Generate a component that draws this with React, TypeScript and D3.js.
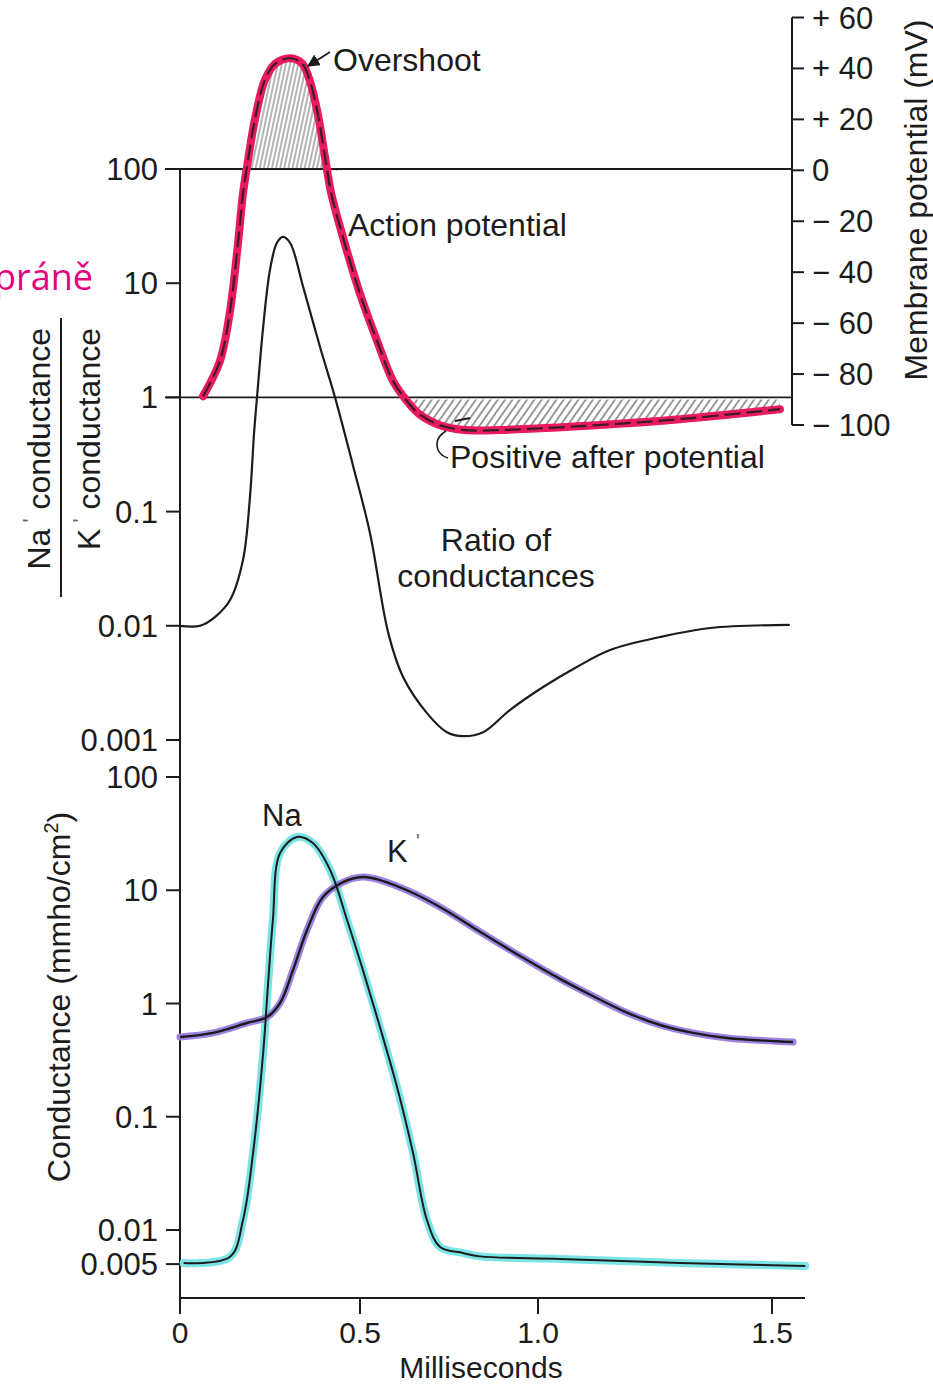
import React from "react";
import * as d3 from "d3";

// time axis (ms)
const timeTicks = [0, 0.5, 1.0, 1.5];
const timeTickLabels = ["0", "0.5", "1.0", "1.5"];

// membrane potential (mV)
const apT = [0.064, 0.111, 0.139, 0.161, 0.175, 0.189, 0.208, 0.236, 0.264, 0.306, 0.339, 0.361, 0.383, 0.403, 0.42, 0.453, 0.5, 0.548, 0.593, 0.632, 0.667, 0.725, 0.795, 0.893, 1.004, 1.132, 1.303, 1.517];
const apMV = [-88.7, -74.9, -55.2, -28.8, -9.1, 3.9, 20, 35.5, 41.8, 44, 42, 35, 22, 5, -9, -26.4, -48.5, -67, -82.8, -90.6, -95.8, -100.1, -102, -102, -101.3, -100, -97.7, -93.8];

// Na+/K+ conductance ratio
const ratioT = [0, 0.056, 0.097, 0.139, 0.175, 0.194, 0.206, 0.216, 0.231, 0.25, 0.269, 0.286, 0.306, 0.342, 0.389, 0.431, 0.481, 0.528, 0.58, 0.621, 0.688, 0.744, 0.789, 0.846, 0.921, 1.011, 1.083, 1.154, 1.261, 1.368, 1.538];
const ratioV = [0.01, 0.01, 0.0119, 0.0168, 0.0377, 0.13, 0.5, 1.2, 4.13, 13.1, 22.5, 25.4, 22.5, 9.3, 2.76, 0.99, 0.25, 0.065, 0.0085, 0.00356, 0.00172, 0.00117, 0.00108, 0.00117, 0.00183, 0.00291, 0.00436, 0.00614, 0.00798, 0.00957, 0.0102];

// conductances (mmho/cm2)
const naT = [0.01, 0.139, 0.175, 0.203, 0.231, 0.244, 0.258, 0.278, 0.325, 0.369, 0.417, 0.464, 0.508, 0.556, 0.604, 0.649, 0.688, 0.725, 0.789, 0.837, 1.047, 1.303, 1.571];
const naV = [0.0051, 0.0058, 0.01225, 0.0479, 0.366, 1.4, 5.46, 21.3, 29.5, 26.1, 15.1, 5.46, 1.98, 0.62, 0.183, 0.0479, 0.01225, 0.00708, 0.00627, 0.00585, 0.00555, 0.00512, 0.00481];
const kT = [0, 0.092, 0.186, 0.242, 0.278, 0.314, 0.353, 0.397, 0.453, 0.508, 0.556, 0.649, 0.739, 0.837, 0.969, 1.047, 1.118, 1.19, 1.261, 1.331, 1.404, 1.545];
const kV = [0.506, 0.55, 0.673, 0.76, 1.01, 1.98, 4.46, 8.7, 11.8, 13.1, 12.3, 9.46, 6.7, 4.3, 2.42, 1.65, 1.16, 0.83, 0.646, 0.55, 0.496, 0.457];

const mvTicks = [60, 40, 20, 0, -20, -40, -60, -80, -100];
const ratioTicks = [100, 10, 1, 0.1, 0.01, 0.001];
const ratioTickLabels = ["100", "10", "1", "0.1", "0.01", "0.001"];
const condTicks = [100, 10, 1, 0.1, 0.01, 0.005];
const condTickLabels = ["100", "10", "1", "0.1", "0.01", "0.005"];

const FONT = "'Liberation Sans', Arial, sans-serif";
const INK = "#1c1c1c";
const PINK = "#ea1a5e";
const CYAN = "#7be4e6";
const PURPLE = "#9d82e2";

const zip = (t: number[], v: number[]) => t.map((d, i) => ({ t: d, v: v[i] }));

export default function App() {
	const x = d3.scaleLinear().domain([0, 0.5, 1.0, 1.5]).range([180, 360, 538, 772]);
	const yRatio = d3.scaleLog().domain([0.001, 100]).range([740, 169]);
	const yMV = d3.scaleLinear().domain([-100, 60]).range([425, 17.5]);
	const yCond = d3.scaleLog().domain([0.01, 100]).range([1230, 777]);

	const ap = zip(apT, apMV);
	const ratio = zip(ratioT, ratioV);
	const na = zip(naT, naV);
	const k = zip(kT, kV);

	const smooth = d3.curveCatmullRom.alpha(0.5);
	const apLine = d3.line<any>().x(d => x(d.t)).y(d => yMV(d.v)).curve(smooth);
	const ratioLine = d3.line<any>().x(d => x(d.t)).y(d => yRatio(d.v)).curve(smooth);
	const condLine = d3.line<any>().x(d => x(d.t)).y(d => yCond(d.v)).curve(smooth);

	const overshootArea = d3.area<any>()
		.x(d => x(d.t))
		.y0(yMV(0))
		.y1(d => yMV(Math.max(d.v, 0)))
		.curve(smooth);
	const afterArea = d3.area<any>()
		.defined(d => d.t > 0.55)
		.x(d => x(d.t))
		.y0(yMV(-90))
		.y1(d => yMV(Math.min(d.v, -90)))
		.curve(smooth);

	const axisX = x(0);
	const rightX = 792;
	const xAxisY = 1298;

	const mvLabel = (v: number) => v > 0 ? "+ " + v : v < 0 ? "\u2212 " + (-v) : "0";

	return (
		<svg width={933} height={1384} style={{ display: "block", position: "absolute", left: 0, top: 0, background: "#fff" }}
			fontFamily={FONT} fill={INK}>
			<defs>
				<pattern id="hatchV" width="4" height="6" patternUnits="userSpaceOnUse" patternTransform="rotate(12)">
					<line x1="1" y1="0" x2="1" y2="6" stroke="#6a6a6a" strokeWidth="1" />
				</pattern>
				<pattern id="hatchD" width="6" height="6" patternUnits="userSpaceOnUse" patternTransform="rotate(35)">
					<line x1="1" y1="0" x2="1" y2="6" stroke="#555" strokeWidth="1.2" />
				</pattern>
				<marker id="arrow" viewBox="0 0 10 10" refX="9" refY="5" markerWidth="7" markerHeight="7" orient="auto">
					<path d="M0,0 L10,5 L0,10 z" fill={INK} />
				</marker>
			</defs>

			{/* slide caption fragment, cut at the page edge as in the source */}
			<text x={93} y={290} textAnchor="end" fontFamily="'Open Sans', 'Noto Sans', sans-serif" fontSize={36} fill="#e5007d">práně</text>

			{/* hatched regions */}
			<path d={overshootArea(ap) || ""} fill="url(#hatchV)" />
			<path d={afterArea(ap) || ""} fill="url(#hatchD)" />

			{/* reference lines */}
			<line x1={165} x2={rightX} y1={yRatio(100)} y2={yRatio(100)} stroke={INK} strokeWidth={1.8} />
			<line x1={165} x2={rightX} y1={yRatio(1)} y2={yRatio(1)} stroke={INK} strokeWidth={1.8} />

			{/* left axis */}
			<line x1={axisX} x2={axisX} y1={yRatio(100)} y2={xAxisY + 16} stroke={INK} strokeWidth={2} />
			{ratioTicks.map((t, i) => (
				<g key={"r" + i}>
					<line x1={166} x2={axisX} y1={yRatio(t)} y2={yRatio(t)} stroke={INK} strokeWidth={2} />
					<text x={158} y={yRatio(t) + 11} textAnchor="end" fontSize={31}>{ratioTickLabels[i]}</text>
				</g>
			))}
			{condTicks.map((t, i) => (
				<g key={"c" + i}>
					<line x1={166} x2={axisX} y1={yCond(t)} y2={yCond(t)} stroke={INK} strokeWidth={2} />
					<text x={158} y={yCond(t) + 11} textAnchor="end" fontSize={31}>{condTickLabels[i]}</text>
				</g>
			))}

			{/* right axis: membrane potential */}
			<line x1={rightX} x2={rightX} y1={yMV(60)} y2={yMV(-100)} stroke={INK} strokeWidth={2} />
			{mvTicks.map(v => (
				<g key={"m" + v}>
					<line x1={rightX} x2={rightX + 12} y1={yMV(v)} y2={yMV(v)} stroke={INK} strokeWidth={2} />
					<text x={812} y={yMV(v) + 11} fontSize={31}>{mvLabel(v)}</text>
				</g>
			))}
			<text transform="translate(927,200) rotate(-90)" textAnchor="middle" fontSize={32}>Membrane potential (mV)</text>

			{/* left labels */}
			<text transform="translate(50,328) rotate(-90)" textAnchor="end" fontSize={32}>Na<tspan fontSize={22} dy={-12} fill="#666"> '</tspan><tspan dy={12}> conductance</tspan></text>
			<line x1={61} x2={61} y1={318} y2={597} stroke={INK} strokeWidth={2} />
			<text transform="translate(100,328) rotate(-90)" textAnchor="end" fontSize={32}>K<tspan fontSize={22} dy={-12} fill="#666"> '</tspan><tspan dy={12}> conductance</tspan></text>
			<text transform="translate(70,997) rotate(-90)" textAnchor="middle" fontSize={32}>Conductance (mmho/cm<tspan fontSize={20} dy={-12}>2</tspan><tspan dy={12}>)</tspan></text>

			{/* x axis */}
			<line x1={axisX} x2={805} y1={xAxisY} y2={xAxisY} stroke={INK} strokeWidth={2} />
			{timeTicks.map((t, i) => (
				<g key={"x" + i}>
					<line x1={x(t)} x2={x(t)} y1={xAxisY} y2={xAxisY + 16} stroke={INK} strokeWidth={2} />
					<text x={x(t)} y={1343} textAnchor="middle" fontSize={30}>{timeTickLabels[i]}</text>
				</g>
			))}
			<text x={481} y={1378} textAnchor="middle" fontSize={30}>Milliseconds</text>

			{/* action potential */}
			<path d={apLine(ap) || ""} fill="none" stroke={PINK} strokeWidth={8} strokeLinecap="round" strokeLinejoin="round" />
			<path d={apLine(ap) || ""} fill="none" stroke={INK} strokeWidth={2.2} strokeDasharray="16 6" opacity={0.85} />

			{/* ratio of conductances */}
			<path d={ratioLine(ratio) || ""} fill="none" stroke={INK} strokeWidth={2.2} />

			{/* conductances */}
			<path d={condLine(na) || ""} fill="none" stroke={CYAN} strokeWidth={8} strokeLinecap="round" />
			<path d={condLine(k) || ""} fill="none" stroke={PURPLE} strokeWidth={7} strokeLinecap="round" />
			<path d={condLine(na) || ""} fill="none" stroke={INK} strokeWidth={2} />
			<path d={condLine(k) || ""} fill="none" stroke={INK} strokeWidth={2.4} />

			{/* annotations */}
			<text x={333} y={71} fontSize={32}>Overshoot</text>
			<line x1={330} y1={52} x2={308} y2={66} stroke={INK} strokeWidth={1.8} markerEnd="url(#arrow)" />
			<text x={348} y={236} fontSize={32}>Action potential</text>
			<text x={450} y={468} fontSize={32}>Positive after potential</text>
			<path d="M446,431 Q434,438 438,450 Q441,456 448,458" fill="none" stroke={INK} strokeWidth={1.6} />
			<line x1={470} y1={418} x2={455} y2={421} stroke={INK} strokeWidth={2} />
			<text x={496} y={551} textAnchor="middle" fontSize={32}>Ratio of</text>
			<text x={496} y={587} textAnchor="middle" fontSize={32}>conductances</text>
			<text x={262} y={826} fontSize={31}>Na</text>
			<text x={387} y={862} fontSize={31}>K</text>
			<text x={416} y={848} fontSize={20} fill="#666">'</text>
		</svg>
	);
}
